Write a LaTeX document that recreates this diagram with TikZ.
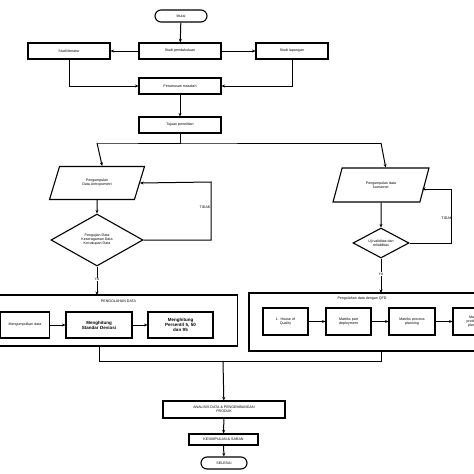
\documentclass[tikz,border=0pt]{standalone}
\usepackage{fontspec}
\setmainfont{Liberation Sans}
\usetikzlibrary{shapes.geometric,arrows.meta}
\begin{document}
\begin{tikzpicture}[x=1pt,y=-1pt,
  every node/.style={font=\fontsize{3.6}{4}\selectfont,align=center,inner sep=0pt},
  box/.style={draw,line width=1.1pt,minimum width=82pt,minimum height=16pt},
  ibox/.style={draw,line width=1.1pt,minimum height=27pt,text width=44pt},
  term/.style={draw,line width=1.1pt,rounded corners=6pt,minimum height=12pt},
  para/.style={draw,line width=1.1pt,trapezium,trapezium left angle=62,trapezium right angle=118,trapezium stretches=true,minimum height=33pt,minimum width=95pt},
  dia/.style={draw,line width=1.1pt,diamond,aspect=1.8,inner sep=0pt},
  ar/.style={line width=1pt,-{Stealth[length=3.5pt,width=3pt]}},
  ln/.style={line width=1pt}]
\useasboundingbox (0,0) rectangle (474,474);
\clip (0,0) rectangle (474,474);
\node[term,minimum width=52pt] (mulai) at (181,16) {Mulai};
\node[box] (sp) at (180,51) {Studi pendahuluan};
\node[box] (sl) at (69,51) {Studi literatur};
\node[box,minimum width=72pt] (sla) at (292,51) {Studi lapangan};
\node[box] (pm) at (180,86) {Perumusan masalah};
\node[box] (tp) at (180,125) {Tujuan penelitian};
\draw[ar] (mulai) -- (sp);
\draw[ar] (sp) -- (sl);
\draw[ar] (sp) -- (sla);
\draw[ar] (sl.south) |- (pm.west);
\draw[ar] (sla.south) |- (pm.east);
\draw[ar] (pm) -- (tp);
\coordinate (sL) at (97,143); \coordinate (sR) at (381,143);
\node[para] (p1) at (97,183) {Pengumpulan\\Data Antropometri};
\node[para,minimum width=96pt,minimum height=34pt] (p2) at (381,185) {Pengumpulan data\\kuesioner};
\draw[ln] (tp.south) -- (180,143) -- (sL) -- (sR);
\draw[ar] (sL) -- (p1.top side);
\draw[ar] (sR) -- (p2.top side);
\node[dia,minimum width=92pt,minimum height=52pt] (d1) at (97,240) {Pengujian Data\\Keseragaman Data\\Kecukupan Data};
\node[dia,minimum width=56pt,minimum height=30pt] (d2) at (381,243) {Uji validitas dan\\reliabilitas};
\draw[ar] (p1) -- (d1);
\draw[ar] (p2) -- (d2);
\coordinate (t1) at (211,240); \coordinate (t1b) at (211,182);
\draw[ar] (d1.east) -- (t1) -- (t1b) -- (p1.east);
\node at (205,207) {TIDAK};
\coordinate (t2) at (451,243); \coordinate (t2b) at (451,189);
\draw[ar] (d2.east) -- (t2) -- (t2b) -- (422,189);
\node at (447,218) {TIDAK};
\node[draw,line width=1.1pt,minimum width=238pt,minimum height=51pt] (L) at (118.5,320.5) {};
\node at (118.5,301) {PENGOLAHAN DATA};
\node[draw,line width=1.1pt,minimum width=240pt,minimum height=58pt] (R) at (369,322) {};
\node at (362,299) {Pengolahan data dengan QFD};
\draw[ar] (d1.south) -- node[pos=0.45,fill=white,inner sep=0.5pt]{YA} (97,295);
\draw[ar] (d2.south) -- node[pos=0.45,fill=white,inner sep=0.5pt]{YA} (381,293);
\node[ibox,text width=49pt,minimum height=26pt] (a1) at (25,325) {Mengumpulkan data};
\node[ibox,text width=66pt,minimum height=26pt,font=\fontsize{4.5}{5}\selectfont\bfseries] (a2) at (99,325) {Menghitung\\Standar Deviasi};
\node[ibox,text width=65pt,minimum height=26pt,font=\fontsize{4.5}{5}\selectfont\bfseries] (a3) at (180.5,325) {Menghitung\\Persentil 5, 50\\dan 95};
\draw[ar] (a1) -- (a2); \draw[ar] (a2) -- (a3);
\node[ibox,text width=45pt] (b1) at (285.5,321.5) {1. House of\\Quality};
\node[ibox,text width=45pt] (b2) at (348.5,321.5) {Matriks part\\deployment};
\node[ibox,text width=46pt] (b3) at (412,321.5) {Matriks process\\planning};
\node[ibox,text width=44pt] (b4) at (475,321.5) {Matriks\\production\\planning};
\draw[ar] (b1) -- (b2); \draw[ar] (b2) -- (b3); \draw[ar] (b3) -- (b4);
\node[box,minimum width=122pt,minimum height=17pt] (an) at (224,409.5) {ANALISIS DATA \& PENGEMBANGAN\\PRODUK};
\node[box,minimum width=69pt,minimum height=11pt] (ks) at (223.5,439.5) {KESIMPULAN \& SARAN};
\node[term,minimum width=46pt] (sel) at (224,463) {SELESAI};
\coordinate (m) at (223,361);
\draw[ln] (99,346) -- (99,361) -- (381,361) -- (381,351);
\draw[ar] (m) -- (an);
\draw[ar] (an) -- (ks);
\draw[ar] (ks) -- (sel);
\end{tikzpicture}
\end{document}
